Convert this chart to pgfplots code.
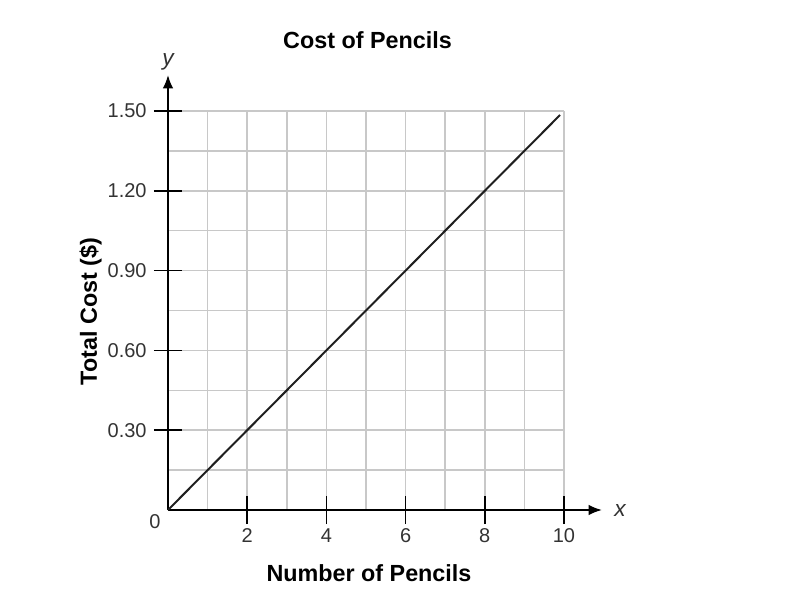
\documentclass[border=0pt]{standalone}
\usepackage{fontspec}
\setmainfont{Liberation Sans}
\usepackage{pgfplots}
\pgfplotsset{compat=1.18}
\usetikzlibrary{arrows.meta}
\definecolor{gridgray}{HTML}{C8C8C8}
\definecolor{ticktext}{HTML}{333333}
\begin{document}
\begin{tikzpicture}
\useasboundingbox (-126pt,-75.75pt) rectangle (474pt,382.5pt);
\begin{axis}[
  at={(0,0)}, anchor=south west,
  scale only axis,
  width=297pt, height=299.25pt,
  xmin=0, xmax=10, ymin=0, ymax=1.5,
  axis lines=left,
  x axis line style={line width=1.5pt, -{Latex[length=10pt,width=8pt]}, shorten >=-28.5pt},
  y axis line style={line width=1.5pt, -{Latex[length=10pt,width=8pt]}, shorten >=-27pt},
  xtick={2,4,6,8,10},
  ytick={0.3,0.6,0.9,1.2,1.5},
  minor xtick={1,3,5,7,9},
  minor ytick={0.15,0.45,0.75,1.05,1.35},
  grid=both,
  major grid style={gridgray, line width=1.2pt},
  minor grid style={gridgray, line width=1.2pt},
  tick align=center,
  major tick length=21pt,
  minor tick length=0pt,
  tick style={black, line width=1.3pt},
  /pgf/number format/assume math mode=true,
  yticklabel style={xshift=-2pt, /pgf/number format/.cd, fixed, zerofill, precision=2},
  ticklabel style={font=\fontsize{15}{17}\selectfont, text=ticktext},
  clip=false,
]
\addplot[line width=1.5pt, color=black!88] coordinates {(0,0) (9.9,1.485)};
\end{axis}
\node[anchor=base, font=\fontsize{17.5}{20}\selectfont\bfseries] at (149.6pt,345.75pt) {Cost of Pencils};
\node[anchor=base, font=\fontsize{17.5}{20}\selectfont\bfseries] at (150.75pt,-53.25pt) {Number of Pencils};
\node[anchor=base, rotate=90, font=\fontsize{17.5}{20}\selectfont\bfseries] at (-53.25pt,148.9pt) {Total Cost (\$)};
\node[font=\fontsize{17}{19}\selectfont\itshape, text=ticktext] at (0pt,336pt) {y};
\node[font=\fontsize{17}{19}\selectfont\itshape, text=ticktext] at (339pt,-0.75pt) {x};
\node[font=\fontsize{15}{17}\selectfont, text=ticktext] at (-9.75pt,-9pt) {0};
\end{tikzpicture}
\end{document}
